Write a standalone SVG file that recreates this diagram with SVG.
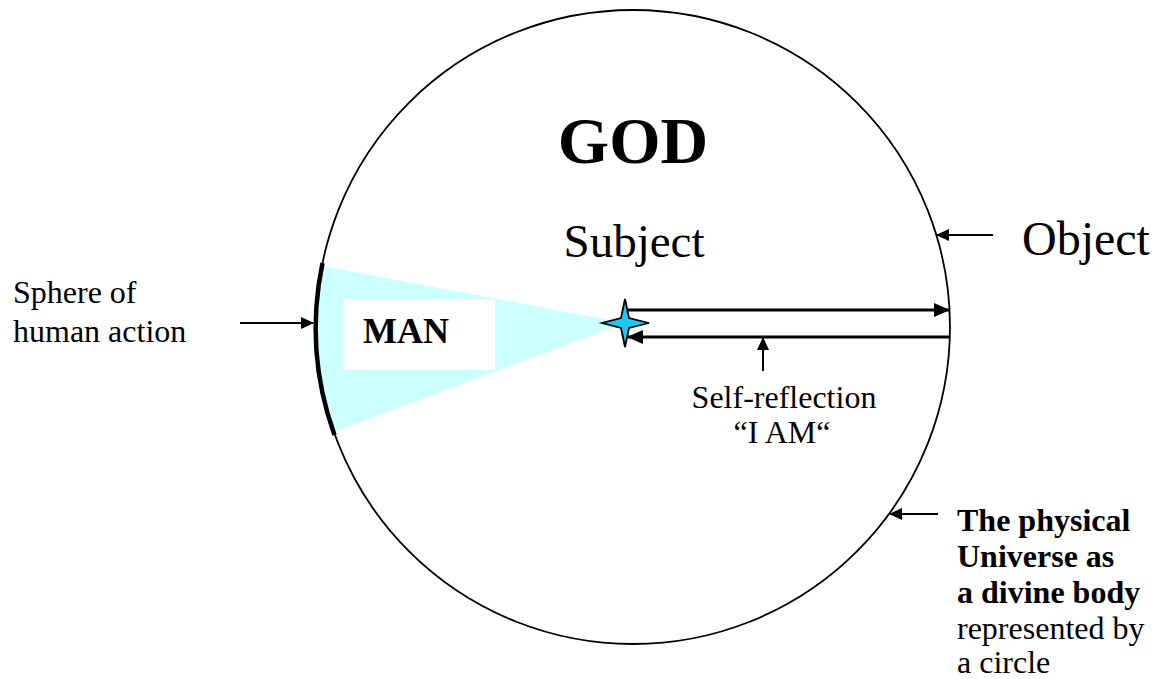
<svg xmlns="http://www.w3.org/2000/svg" width="1159" height="679" viewBox="0 0 1159 679">
<style>
.t{font-family:"Liberation Serif","Times New Roman",serif;fill:#000}
.b{font-weight:bold}
.ln{stroke:#000;fill:none}
</style>
<defs>
<marker id="ah" markerUnits="userSpaceOnUse" markerWidth="16" markerHeight="14" refX="15" refY="7" orient="auto" viewBox="0 0 16 14">
<path d="M0,0 L16,7 L0,14 Z" fill="#000"/>
</marker>
<marker id="ahs" markerUnits="userSpaceOnUse" markerWidth="13" markerHeight="12" refX="12" refY="6" orient="auto" viewBox="0 0 13 12">
<path d="M0,0 L13,6 L0,12 Z" fill="#000"/>
</marker>
</defs>
<rect width="1159" height="679" fill="#fff"/>
<g id="universe">
<circle cx="633" cy="327" r="317" class="ln" stroke-width="1.8"/>
</g>
<g id="sphere">
<path d="M625,323 L321.9,266 A317,317 0 0 0 333.9,432 Z" fill="#ccffff"/>
<path d="M322.5,263 A317,317 0 0 0 334.5,435" class="ln" stroke-width="4.5"/>
</g>
<g id="man">
<rect x="343" y="299" width="152" height="71" fill="#fff"/>
<text x="363" y="343" class="t b" font-size="36">MAN</text>
</g>
<g id="connectors">
<line x1="627" y1="310" x2="949" y2="310" class="ln" stroke-width="3" marker-end="url(#ah)"/>
<line x1="950" y1="337" x2="628" y2="337" class="ln" stroke-width="3" marker-end="url(#ah)"/>
<line x1="763" y1="371" x2="763" y2="338" class="ln" stroke-width="2" marker-end="url(#ahs)"/>
<line x1="240" y1="323" x2="313" y2="323" class="ln" stroke-width="2" marker-end="url(#ahs)"/>
<line x1="993" y1="235" x2="937" y2="235" class="ln" stroke-width="2" marker-end="url(#ahs)"/>
<line x1="938" y1="514" x2="890" y2="514" class="ln" stroke-width="2" marker-end="url(#ahs)"/>
</g>
<g id="star">
<path d="M625,299 L629,318 L649,323 L629,328 L625,347 L621,328 L602,323 L621,318 Z" fill="#1ec8f5" stroke="#000" stroke-width="1.8" stroke-linejoin="miter"/>
</g>
<g id="god">
<text x="633" y="163" class="t b" font-size="66" text-anchor="middle">GOD</text>
<text x="634" y="257" class="t" font-size="47" text-anchor="middle">Subject</text>
</g>
<g id="object">
<text x="1022" y="255" class="t" font-size="48">Object</text>
</g>
<g id="selfreflection">
<text x="784" y="408" class="t" font-size="32" text-anchor="middle">Self-reflection</text>
<text x="782" y="443" class="t" font-size="32" text-anchor="middle">“I AM“</text>
</g>
<g id="sphere-label">
<text x="13" y="303" class="t" font-size="32">Sphere of</text>
<text x="13" y="342" class="t" font-size="32">human action</text>
</g>
<g id="universe-label">
<text class="t" font-size="32">
<tspan x="957" y="531" class="b">The physical</tspan>
<tspan x="957" y="567" class="b">Universe as</tspan>
<tspan x="957" y="603" class="b">a divine body</tspan>
<tspan x="957" y="639">represented by</tspan>
<tspan x="957" y="673">a circle</tspan>
</text>
</g>
</svg>
